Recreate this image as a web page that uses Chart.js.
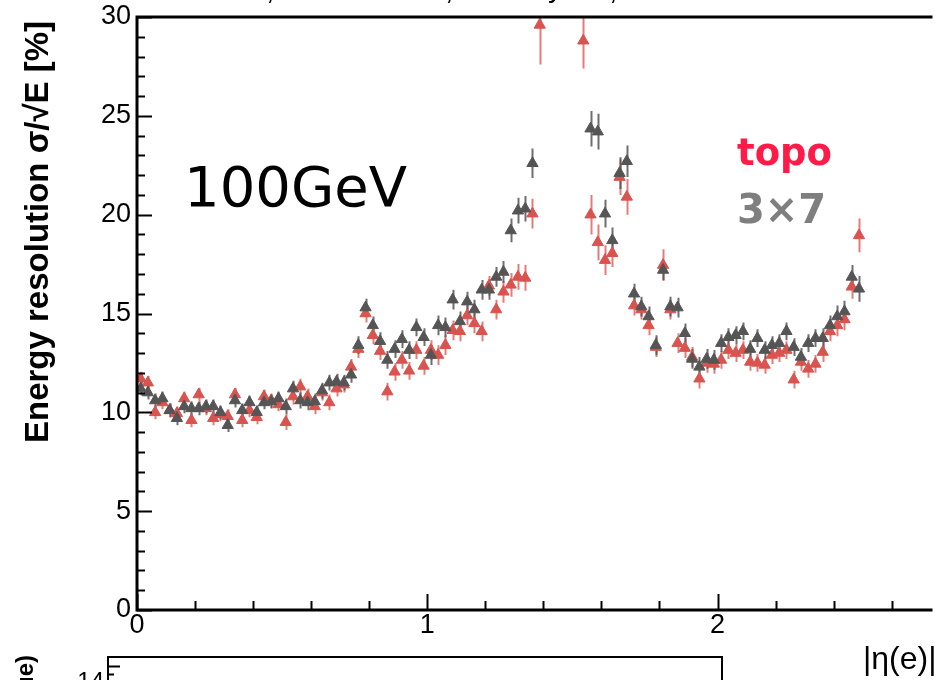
<!DOCTYPE html>
<html>
<head>
<meta charset="utf-8">
<script src="https://cdn.jsdelivr.net/npm/chart.js@4/dist/chart.umd.min.js"></script>
<style>
  html, body { margin: 0; padding: 0; background: #fff; }
  #wrap { width: 935px; height: 680px; position: relative; }
</style>
</head>
<body>
<div id="wrap"><canvas id="chart" width="935" height="680"></canvas></div>
<script>
// |eta| bin centres (bin width 0.025)
const etaBins = [
  0.0125, 0.0375, 0.0625, 0.0875, 0.1125, 0.1375, 0.1625, 0.1875, 0.2125, 0.2375,
  0.2625, 0.2875, 0.3125, 0.3375, 0.3625, 0.3875, 0.4125, 0.4375, 0.4625, 0.4875,
  0.5125, 0.5375, 0.5625, 0.5875, 0.6125, 0.6375, 0.6625, 0.6875, 0.7125, 0.7375,
  0.7625, 0.7875, 0.8125, 0.8375, 0.8625, 0.8875, 0.9125, 0.9375, 0.9625, 0.9875,
  1.0125, 1.0375, 1.0625, 1.0875, 1.1125, 1.1375, 1.1625, 1.1875, 1.2125, 1.2375,
  1.2625, 1.2875, 1.3125, 1.3375, 1.3625, 1.3875, 1.4125, 1.4375, 1.4625, 1.4875,
  1.5125, 1.5375, 1.5625, 1.5875, 1.6125, 1.6375, 1.6625, 1.6875, 1.7125, 1.7375,
  1.7625, 1.7875, 1.8125, 1.8375, 1.8625, 1.8875, 1.9125, 1.9375, 1.9625, 1.9875,
  2.0125, 2.0375, 2.0625, 2.0875, 2.1125, 2.1375, 2.1625, 2.1875, 2.2125, 2.2375,
  2.2625, 2.2875, 2.3125, 2.3375, 2.3625, 2.3875, 2.4125, 2.4375, 2.4625, 2.4875
];

// 3x7 cluster resolution [%]
const res3x7 = [
  11.2, 11.0, 10.6, 10.7, 10.1, 9.7, 10.3, 10.2, 10.2, 10.3,
  10.3, 10.0, 9.35, 10.6, 10.1, 10.5, 10.0, 10.5, 10.55, 10.7,
  10.3, 11.2, 10.6, 10.5, 10.55, 11.1, 11.5, 11.55, 11.5, 11.9,
  13.4, 15.3, 14.4, 13.6, 12.65, 13.2, 13.7, 13.15, 14.3, 13.8,
  12.9, 14.4, 14.3, 15.7, 14.6, 15.6, 15.2, 16.2, 16.2, 16.85,
  17.1, 19.2, 20.2, 20.3, 22.6, null, null, null, null, null,
  null, null, 24.35, 24.2, 20.05, 18.7, 22.1, 22.7, 16.0, 15.35,
  14.85, 13.4, 17.2, 15.35, 15.3, 14.0, 12.7, 12.3, 12.7, 12.65,
  13.5, 13.8, 13.9, 14.1, 13.2, 13.75, 13.15, 13.4, 13.5, 14.1,
  13.3, 12.8, 13.5, 13.75, 13.75, 14.4, 14.85, 15.1, 16.85, 16.25
];
const err3x7 = [
  0.35, 0.35, 0.35, 0.35, 0.35, 0.35, 0.35, 0.35, 0.35, 0.35,
  0.35, 0.35, 0.35, 0.35, 0.35, 0.35, 0.35, 0.35, 0.35, 0.35,
  0.4, 0.4, 0.4, 0.4, 0.4, 0.4, 0.4, 0.4, 0.4, 0.4,
  0.45, 0.45, 0.45, 0.45, 0.45, 0.45, 0.45, 0.45, 0.45, 0.45,
  0.5, 0.5, 0.5, 0.5, 0.5, 0.5, 0.5, 0.5, 0.5, 0.5,
  0.55, 0.6, 0.65, 0.65, 0.75, null, null, null, null, null,
  null, null, 0.9, 0.9, 0.7, 0.65, 0.8, 0.8, 0.5, 0.5,
  0.5, 0.5, 0.5, 0.5, 0.5, 0.5, 0.5, 0.5, 0.5, 0.5,
  0.45, 0.45, 0.45, 0.45, 0.45, 0.45, 0.45, 0.45, 0.45, 0.45,
  0.45, 0.45, 0.45, 0.45, 0.5, 0.5, 0.55, 0.55, 0.6, 0.65
];

// topo cluster resolution [%]
const resTopo = [
  11.7, 11.5, 10.0, 10.5, 10.1, 9.95, 10.7, 9.6, 10.9, 10.2,
  9.7, 9.9, 9.8, 10.9, 9.6, 10.1, 9.75, 10.8, 10.6, 10.4,
  9.5, 10.8, 11.3, 10.8, 10.3, 11.0, 10.5, 11.2, 11.4, 12.3,
  13.2, 15.0, 13.9, 13.1, 11.05, 12.05, 12.65, 12.1, 13.15, 12.35,
  13.15, 12.9, 13.4, 14.15, 14.1, 14.9, 14.5, 14.1, 16.4, 15.2,
  16.1, 16.45, 16.85, 16.8, 20.05, 29.6, null, null, null, null,
  null, 28.8, 20.0, 18.6, 17.7, 18.05, 21.9, 20.9, 15.4, 15.2,
  14.4, 13.3, 17.45, 15.2, 13.5, 13.25, 12.8, 11.7, 12.5, 12.45,
  12.65, 13.15, 13.0, 13.15, 12.55, 12.5, 12.4, 12.9, 13.0, 13.15,
  11.65, 12.55, 12.2, 12.45, 13.05, 14.1, 14.4, 14.7, 16.35, 18.95
];
const errTopo = [
  0.35, 0.35, 0.35, 0.35, 0.35, 0.35, 0.35, 0.35, 0.35, 0.35,
  0.35, 0.35, 0.35, 0.35, 0.35, 0.35, 0.35, 0.35, 0.35, 0.35,
  0.4, 0.4, 0.4, 0.4, 0.4, 0.4, 0.4, 0.4, 0.4, 0.4,
  0.45, 0.45, 0.45, 0.45, 0.45, 0.45, 0.45, 0.45, 0.45, 0.45,
  0.5, 0.5, 0.5, 0.5, 0.5, 0.5, 0.5, 0.5, 0.5, 0.5,
  0.55, 0.6, 0.65, 0.65, 0.75, 2.0, null, null, null, null,
  null, 1.4, 1.0, 0.9, 0.75, 0.7, 0.9, 0.9, 0.5, 0.5,
  0.5, 0.5, 0.8, 0.5, 0.5, 0.5, 0.5, 0.5, 0.5, 0.5,
  0.45, 0.45, 0.45, 0.45, 0.45, 0.45, 0.45, 0.45, 0.45, 0.45,
  0.45, 0.45, 0.45, 0.45, 0.5, 0.5, 0.55, 0.55, 0.6, 0.85
];

const yTicks = [0, 5, 10, 15, 20, 25, 30];
const xTicks = [0, 1, 2];

const GRAY = '#555555';
const RED = '#d9534f';
const LABEL_FONT = 'Liberation Sans';

function toPoints(values) {
  return etaBins.map((eta, i) => ({ x: eta, y: values[i] }));
}

// vertical error bars, drawn under the markers
const errorBars = {
  id: 'errorBars',
  beforeDatasetsDraw(chart) {
    const { ctx, chartArea, scales: { x, y } } = chart;
    ctx.save();
    ctx.beginPath();
    ctx.rect(chartArea.left, chartArea.top, chartArea.right - chartArea.left, chartArea.bottom - chartArea.top);
    ctx.clip();
    ctx.lineWidth = 2;
    chart.data.datasets.slice().reverse().forEach(ds => {
      ctx.strokeStyle = ds.errColor;
      ds.data.forEach((p, i) => {
        const e = ds.errors[i];
        if (p.y == null || e == null) return;
        const px = Math.round(x.getPixelForValue(p.x)) + 0.5;
        ctx.beginPath();
        ctx.moveTo(px, y.getPixelForValue(p.y - e));
        ctx.lineTo(px, y.getPixelForValue(p.y + e));
        ctx.stroke();
      });
    });
    ctx.restore();
  }
};

// ROOT-style frame, inward ticks and the free texts
const frame = {
  id: 'frame',
  afterDraw(chart) {
    const { ctx, chartArea: a, scales: { x, y } } = chart;
    ctx.save();
    ctx.strokeStyle = '#000';
    ctx.lineWidth = 2;
    // minor + major y ticks
    for (let v = 0; v <= 30; v++) {
      const py = Math.round(y.getPixelForValue(v)) + 0.5;
      const len = v % 5 === 0 ? 15 : 8;
      ctx.beginPath();
      ctx.moveTo(a.left, py);
      ctx.lineTo(a.left + len, py);
      ctx.stroke();
    }
    // minor + major x ticks
    for (let k = 0; k <= 13; k++) {
      const v = k * 0.2;
      const px = Math.round(x.getPixelForValue(v)) + 0.5;
      const len = k % 5 === 0 ? 16 : 9;
      ctx.beginPath();
      ctx.moveTo(px, a.bottom);
      ctx.lineTo(px, a.bottom - len);
      ctx.stroke();
    }
    // axis lines
    ctx.lineWidth = 3;
    ctx.beginPath();
    ctx.moveTo(a.right + 5, a.top);
    ctx.lineTo(a.left, a.top);
    ctx.lineTo(a.left, a.bottom);
    ctx.lineTo(a.right + 5, a.bottom);
    ctx.stroke();

    // y title
    ctx.save();
    ctx.translate(39, 232);
    ctx.rotate(-Math.PI / 2);
    ctx.font = 'bold 33px "Liberation Sans", Arial, sans-serif';
    ctx.fillStyle = '#000';
    ctx.textAlign = 'center';
    ctx.textBaseline = 'middle';
    ctx.fillText('Energy resolution σ/√E [%]', 0, 0);
    ctx.restore();

    // x title
    ctx.font = '32px "Liberation Sans", Arial, sans-serif';
    ctx.fillStyle = '#000';
    ctx.textAlign = 'left';
    ctx.textBaseline = 'middle';
    ctx.fillText('|η(e)|', 863, 660);

    // energy label and legend texts
    ctx.font = '56px "DejaVu Sans", sans-serif';
    ctx.textBaseline = 'alphabetic';
    ctx.fillText('100GeV', 184, 206);
    ctx.font = 'bold 37px "DejaVu Sans", sans-serif';
    ctx.fillStyle = '#ff1a47';
    ctx.fillText('topo', 737, 165);
    ctx.font = 'bold 40px "DejaVu Sans", sans-serif';
    ctx.fillStyle = '#7f7f7f';
    ctx.fillText('3×7', 737, 223);

    // top edge: cut-off title line of the slide
    ctx.fillStyle = '#000';
    ctx.font = '30px "Liberation Sans", Arial, sans-serif';
    ctx.fillText(',', 266, -1);
    ctx.fillText(',', 445, -1);
    ctx.fillText('y', 548, -3);
    ctx.fillText(',', 609, -1);
    ctx.fillText('(', 906, -6);

    // bottom: top of the next pad
    ctx.lineWidth = 2;
    ctx.strokeStyle = '#000';
    ctx.strokeRect(108, 657, 614, 60);
    ctx.beginPath();
    ctx.moveTo(108, 666.5); ctx.lineTo(120, 666.5);
    ctx.moveTo(108, 674.5); ctx.lineTo(114, 674.5);
    ctx.stroke();
    ctx.font = '24px "Liberation Sans", Arial, sans-serif';
    ctx.textAlign = 'right';
    ctx.textBaseline = 'middle';
    ctx.fillText('14', 104, 682);
    ctx.save();
    ctx.translate(26, 655);
    ctx.rotate(-Math.PI / 2);
    ctx.font = 'bold 24px "Liberation Sans", Arial, sans-serif';
    ctx.textAlign = 'right';
    ctx.fillText('E(true)', 0, 0);
    ctx.restore();
    ctx.restore();
  }
};

const ctx = document.getElementById('chart').getContext('2d');
new Chart(ctx, {
  type: 'scatter',
  data: {
    datasets: [
      {
        label: '3x7',
        data: toPoints(res3x7),
        errors: err3x7,
        errColor: 'rgba(85,85,85,0.85)',
        backgroundColor: GRAY,
        borderColor: GRAY,
        pointStyle: 'triangle',
        pointRadius: 6.5,
        pointBorderWidth: 1
      },
      {
        label: 'topo',
        data: toPoints(resTopo),
        errors: errTopo,
        errColor: 'rgba(222,90,85,0.8)',
        backgroundColor: RED,
        borderColor: RED,
        pointStyle: 'triangle',
        pointRadius: 6.5,
        pointBorderWidth: 1
      }
    ]
  },
  options: {
    responsive: false,
    animation: false,
    devicePixelRatio: 1,
    layout: { padding: { top: 17, right: 0, left: 0, bottom: 0 } },
    plugins: {
      legend: { display: false },
      tooltip: { enabled: false }
    },
    scales: {
      x: {
        type: 'linear',
        min: 0,
        max: 2.7235,
        border: { display: false },
        grid: { display: false, drawTicks: false },
        afterFit: s => { s.height = 70; s.paddingLeft = 0; s.paddingRight = 0; },
        afterBuildTicks: s => { s.ticks = xTicks.map(v => ({ value: v })); },
        ticks: {
          padding: 2,
          color: '#000',
          font: { family: LABEL_FONT, size: 27, lineHeight: 1 },
          maxRotation: 0
        }
      },
      y: {
        type: 'linear',
        min: 0,
        max: 30,
        border: { display: false },
        grid: { display: false, drawTicks: false },
        afterFit: s => { s.width = 137; s.paddingTop = 0; s.paddingBottom = 0; },
        afterBuildTicks: s => { s.ticks = yTicks.map(v => ({ value: v })); },
        ticks: {
          padding: 6,
          color: '#000',
          font: { family: LABEL_FONT, size: 27, lineHeight: 1 }
        }
      }
    }
  },
  plugins: [errorBars, frame]
});
</script>
</body>
</html>
